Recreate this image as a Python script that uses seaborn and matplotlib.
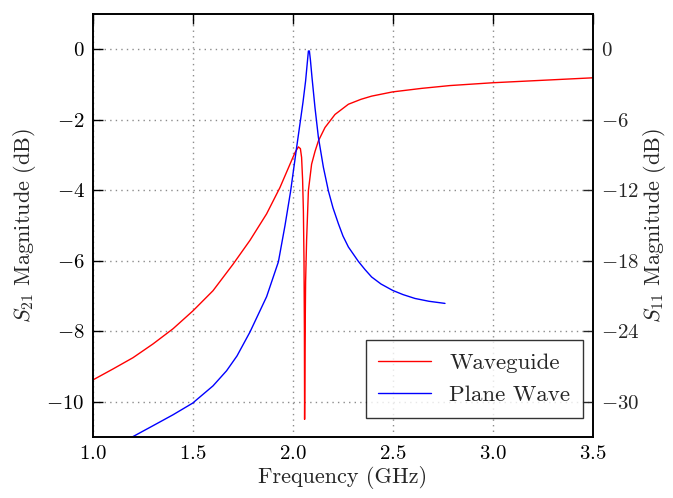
import numpy as np
import pandas as pd
import matplotlib
matplotlib.use("Agg")
import matplotlib.pyplot as plt
import seaborn as sns

# Waveguide (red), values in left-axis dB units
wg_freq = [1.0, 1.1, 1.2, 1.3, 1.4, 1.5, 1.6, 1.7, 1.785, 1.868, 1.935, 1.985, 2.01,
           2.027, 2.037, 2.043, 2.048, 2.052, 2.055, 2.057, 2.058, 2.060, 2.063, 2.068,
           2.077, 2.093, 2.11, 2.127, 2.16, 2.21, 2.277, 2.34, 2.393, 2.498, 2.643, 2.785,
           3.0, 3.25, 3.5]
wg_db = [-9.38, -9.07, -8.75, -8.36, -7.93, -7.42, -6.85, -6.1, -5.42, -4.67, -3.92,
         -3.26, -2.93, -2.77, -2.82, -3.07, -3.7, -4.6, -6.0, -8.0, -10.5, -8.5, -6.6,
         -5.42, -4.01, -3.26, -2.9, -2.6, -2.22, -1.85, -1.56, -1.42, -1.33, -1.21, -1.11,
         -1.03, -0.95, -0.88, -0.81]

# Plane wave (blue)
pw_freq = [1.18, 1.235, 1.3, 1.4, 1.498, 1.6, 1.668, 1.72, 1.785, 1.868, 1.927, 1.96,
           1.988, 2.018, 2.037, 2.05, 2.063, 2.072, 2.077, 2.082, 2.087, 2.095, 2.11,
           2.127, 2.152, 2.177, 2.2, 2.227, 2.25, 2.277, 2.327, 2.36, 2.393, 2.44, 2.498,
           2.55, 2.61, 2.68, 2.76]
pw_db = [-11.05, -10.88, -10.68, -10.37, -10.04, -9.55, -9.12, -8.7, -8.02, -7.02,
         -6.03, -5.0, -4.03, -2.79, -2.03, -1.5, -0.9, -0.35, -0.05, -0.05, -0.3, -0.8,
         -1.66, -2.5, -3.35, -4.02, -4.5, -4.95, -5.3, -5.61, -6.02, -6.25, -6.46,
         -6.66, -6.84, -6.96, -7.07, -7.15, -7.21]

series_names = ["Waveguide", "Plane Wave"]
left_ticks = [-10, -8, -6, -4, -2, 0]
right_ticks = [-30, -24, -18, -12, -6, 0]
x_ticks = [1.0, 1.5, 2.0, 2.5, 3.0, 3.5]

df = pd.concat([
    pd.DataFrame({"freq": wg_freq, "db": wg_db, "series": series_names[0]}),
    pd.DataFrame({"freq": pw_freq, "db": pw_db, "series": series_names[1]}),
])

sns.set_style("white")
plt.rcParams["font.family"] = ["cmr10", "DejaVu Serif"]
plt.rcParams["mathtext.fontset"] = "cm"
plt.rcParams["axes.formatter.use_mathtext"] = True
plt.rcParams["axes.unicode_minus"] = True

fig = plt.figure(figsize=(6.73, 4.98), dpi=100)
ax = fig.add_axes([93/673, 61/498, 500/673, 423/498])

sns.lineplot(data=df, x="freq", y="db", hue="series", palette=["#ff0000", "#0000ff"],
             sort=False, estimator=None, linewidth=1.0, ax=ax)

ax.set_xlim(1.0, 3.5)
ax.set_ylim(-11, 1)
ax.set_xticks(x_ticks)
ax.set_yticks(left_ticks)
ax.xaxis.set_major_formatter(matplotlib.ticker.FuncFormatter(lambda v, p: f"${v:.1f}$"))
ax.yaxis.set_major_formatter(matplotlib.ticker.FuncFormatter(lambda v, p: f"${int(v)}$"))
ax.grid(True, linestyle=(0, (1, 3)), color="0.55", linewidth=1.0)
ax.tick_params(direction="in", length=7, width=1.0, top=True, right=True, labelsize=15, pad=6,
               colors="black")
for s in ax.spines.values():
    s.set_color("black")
    s.set_linewidth(1.2)

ax.set_xlabel("Frequency (GHz)", fontsize=16, labelpad=2)
ax.set_ylabel(r"$S_{21}$ Magnitude (dB)", fontsize=16, labelpad=6)

ax2 = ax.twinx()
ax2.set_ylim(-33, 3)
ax2.set_yticks(right_ticks)
ax2.yaxis.set_major_formatter(matplotlib.ticker.FuncFormatter(lambda v, p: f"${int(v)}$"))
ax2.tick_params(direction="in", length=7, width=1.0, labelsize=15, pad=6)
ax2.set_ylabel(r"$S_{11}$ Magnitude (dB)", fontsize=16, labelpad=1)
for s in ax2.spines.values():
    s.set_color("black")
    s.set_linewidth(1.2)

leg = ax.legend(loc="lower right", fontsize=16.5, frameon=True, fancybox=False,
                edgecolor="black", borderpad=0.55, handlelength=2.3, handletextpad=0.8,
                labelspacing=0.55, borderaxespad=0, bbox_to_anchor=(0.98, 0.045))
leg.get_frame().set_linewidth(1.0)

fig.savefig("out.png", dpi=100)
